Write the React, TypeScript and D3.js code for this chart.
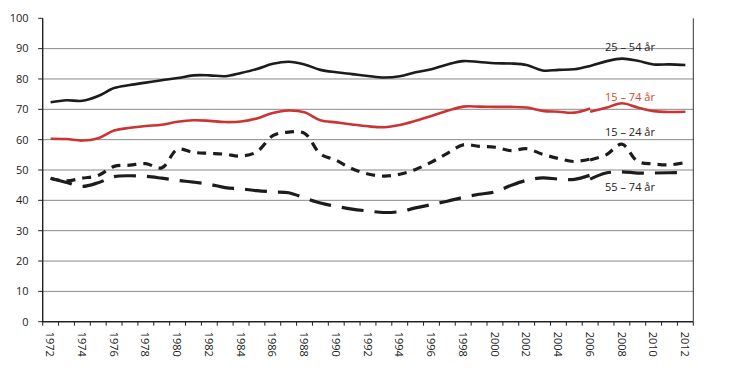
import React from "react";
import * as d3 from "d3";

// years on the x axis
const years = [
  1972, 1973, 1974, 1975, 1976, 1977, 1978, 1979, 1980, 1981, 1982, 1983, 1984, 1985,
  1986, 1987, 1988, 1989, 1990, 1991, 1992, 1993, 1994, 1995, 1996, 1997, 1998, 1999,
  2000, 2001, 2002, 2003, 2004, 2005, 2006, 2007, 2008, 2009, 2010, 2011, 2012,
];
const tickLabels = [
  1972, 1974, 1976, 1978, 1980, 1982, 1984, 1986, 1988, 1990, 1992, 1994, 1996, 1998,
  2000, 2002, 2004, 2006, 2008, 2010, 2012,
];
const yTicks = [0, 10, 20, 30, 40, 50, 60, 70, 80, 90, 100];

// 25 – 54 år, 1972–2012
const age2554 = [
  72.3, 73.0, 72.8, 74.4, 77.0, 78.0, 78.8, 79.6, 80.3, 81.2, 81.2, 80.9, 82.0, 83.3,
  85.0, 85.7, 84.8, 83.0, 82.2, 81.6, 81.0, 80.5, 80.9, 82.2, 83.2, 84.8, 85.9, 85.6,
  85.2, 85.1, 84.6, 82.8, 83.0, 83.2, 84.3, 85.8, 86.7, 86.0, 84.8, 84.8, 84.6,
];

// 15 – 74 år, brudd i 2006
const years1574a = years.slice(0, 35);
const age1574a = [
  60.3, 60.2, 59.7, 60.5, 63.0, 63.9, 64.5, 64.9, 65.9, 66.4, 66.2, 65.8, 66.0, 67.0,
  68.8, 69.6, 69.0, 66.4, 65.7, 65.0, 64.4, 64.1, 64.8, 66.2, 67.8, 69.5, 70.9, 70.9,
  70.8, 70.8, 70.6, 69.5, 69.2, 68.9, 70.3,
];
const years1574b = years.slice(34);
const age1574b = [69.2, 70.5, 72.0, 70.6, 69.4, 69.1, 69.2];

// 15 – 24 år
const age1524a = [
  47.2, 46.4, 47.3, 48.2, 51.2, 51.6, 52.1, 50.7, 56.8, 55.8, 55.5, 55.2, 54.6, 56.0,
  61.3, 62.5, 62.1, 55.3, 53.2, 50.4, 48.7, 48.0, 48.6, 50.2, 52.6, 55.5, 58.3, 57.8,
  57.5, 56.4, 57.0, 55.2, 53.8, 52.8, 53.6,
];
const age1524b = [53.3, 55.0, 58.5, 52.8, 52.0, 51.7, 52.5];

// 55 – 74 år
const age5574a = [
  47.3, 45.9, 44.6, 45.8, 47.8, 48.1, 47.9, 47.3, 46.6, 46.0, 45.3, 44.2, 43.8, 43.2,
  42.8, 42.5, 40.8, 39.1, 38.0, 37.1, 36.5, 36.0, 36.3, 37.5, 38.6, 39.7, 41.0, 42.0,
  42.8, 44.9, 46.6, 47.4, 47.0, 46.9, 48.3,
];
const age5574b = [47.0, 49.0, 49.4, 49.0, 49.0, 49.1, 49.2];

const labels = [
  { text: "25 – 54 år", value: 89.3, color: "#222" },
  { text: "15 – 74 år", value: 72.8, color: "#d4472e" },
  { text: "15 – 24 år", value: 61.2, color: "#222" },
  { text: "55 – 74 år", value: 43.2, color: "#222" },
];

const width = 730;
const height = 375;
const left = 42.7;
const right = 693.3;
const top = 18.3;
const bottom = 321.7;

const App = () => {
  const x = d3.scaleBand<number>().domain(years).range([left, right]).padding(0);
  const y = d3.scaleLinear().domain([0, 100]).range([bottom, top]);
  const cx = (yr: number) => (x(yr) as number) + x.bandwidth() / 2;

  const line = d3
    .line<[number, number]>()
    .x((d) => cx(d[0]))
    .y((d) => y(d[1]))
    .curve(d3.curveCatmullRom.alpha(0.5));

  const pts = (ys: number[], vs: number[]) => ys.map((yr, i) => [yr, vs[i]] as [number, number]);

  const font = "'Open Sans', 'DejaVu Sans', sans-serif";

  return (
    <svg
      width={width}
      height={height}
      style={{ position: "absolute", left: 0, top: 0, background: "white" }}
      fontFamily={font}
    >
      {/* gridlines */}
      {yTicks.filter((t) => t > 0 && t < 100).map((t) => (
        <line key={t} x1={left} x2={right} y1={y(t)} y2={y(t)} stroke="#8a8a8a" strokeWidth={1} />
      ))}

      {/* right frame */}
      <line x1={right} x2={right} y1={top} y2={bottom} stroke="#333" strokeWidth={1} />

      {/* y axis */}
      <line x1={left} x2={left} y1={top} y2={bottom + 0.5} stroke="#222" strokeWidth={1.4} />
      {yTicks.map((t) => (
        <g key={t}>
          <line x1={left - 4.5} x2={left} y1={y(t)} y2={y(t)} stroke="#222" strokeWidth={1} />
          <text x={28.5} y={y(t)} dy="0.35em" textAnchor="end" fontSize={11} fill="#222">
            {t}
          </text>
        </g>
      ))}

      {/* x axis */}
      <line x1={left} x2={right} y1={bottom} y2={bottom} stroke="#222" strokeWidth={1.4} />
      {years.map((yr) => (
        <line key={yr} x1={x(yr)} x2={x(yr)} y1={bottom} y2={bottom + 4} stroke="#222" strokeWidth={1} />
      ))}
      <line x1={right} x2={right} y1={bottom} y2={bottom + 4} stroke="#222" strokeWidth={1} />
      {tickLabels.map((yr) => (
        <text
          key={yr}
          transform={`translate(${cx(yr) - 0.5},${bottom + 10}) rotate(90)`}
          dy="0.35em"
          textAnchor="start"
          fontSize={11}
          fill="#222"
        >
          {yr}
        </text>
      ))}

      {/* series */}
      <path d={line(pts(years, age2554)) || ""} fill="none" stroke="#1c1c1c" strokeWidth={2.6} />
      <path d={line(pts(years1574a, age1574a)) || ""} fill="none" stroke="#cc3333" strokeWidth={2.6} />
      <path d={line(pts(years1574b, age1574b)) || ""} fill="none" stroke="#cc3333" strokeWidth={2.6} />

      <path d={line(pts(years1574a, age1524a)) || ""} fill="none" stroke="#1c1c1c" strokeWidth={3.2} strokeDasharray="9 7" />
      <path d={line(pts(years1574b, age1524b)) || ""} fill="none" stroke="#1c1c1c" strokeWidth={3.2} strokeDasharray="9 7" />
      <path d={line(pts(years1574a, age5574a)) || ""} fill="none" stroke="#1c1c1c" strokeWidth={3.2} strokeDasharray="22 11" />
      <path d={line(pts(years1574b, age5574b)) || ""} fill="none" stroke="#1c1c1c" strokeWidth={3.2} strokeDasharray="22 11" />

      {/* labels */}
      {labels.map((l) => (
        <text key={l.text} x={630} y={y(l.value)} textAnchor="middle" fontSize={11} fill={l.color}>
          {l.text}
        </text>
      ))}
    </svg>
  );
};

export default App;
